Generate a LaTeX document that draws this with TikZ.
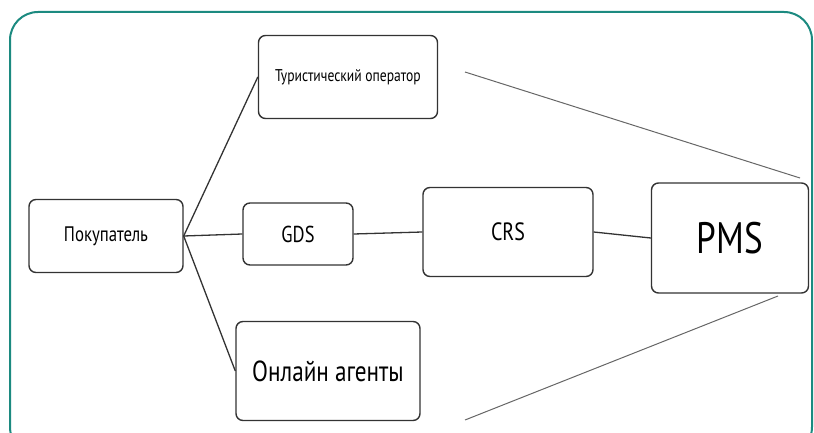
\documentclass[tikz,border=0pt]{standalone}
\usepackage{fontspec}
\setmainfont{PT Sans}[FakeStretch=0.8]
\definecolor{frameteal}{HTML}{1C8A80}
\definecolor{boxline}{HTML}{333333}
\begin{document}
\begin{tikzpicture}[x=1pt,y=-1pt,
  box/.style={draw=boxline,line width=1.4pt,rounded corners=7pt,fill=white,
    inner sep=0pt,align=center,font=\fontsize{24}{26}\selectfont},
  link/.style={draw=boxline,line width=1.3pt},
  ghost/.style={draw=black!60,line width=1pt}]
\useasboundingbox (0,0) rectangle (814,433);
\begin{scope}
\clip (0,0) rectangle (814,433);
\draw[frameteal,line width=2pt,rounded corners=28pt] (10,12) rectangle (812,455);
\end{scope}
\node[box,minimum width=179pt,minimum height=83pt,font=\fontsize{17}{19}\selectfont] (tour) at (348,77) {Туристический оператор};
\node[box,minimum width=154pt,minimum height=73pt,font=\fontsize{21}{23}\selectfont] (buyer) at (106,236) {Покупатель};
\node[box,minimum width=110pt,minimum height=62pt,font=\fontsize{23}{25}\selectfont] (gds) at (298,234) {GDS};
\node[box,minimum width=170pt,minimum height=89pt,font=\fontsize{25}{27}\selectfont] (crs) at (508,232) {CRS};
\node[box,minimum width=157pt,minimum height=110pt,font=\fontsize{44}{46}\selectfont] (pms) at (730,238) {PMS};
\node[box,minimum width=184pt,minimum height=99pt,font=\fontsize{29}{31}\selectfont] (online) at (328,371) {Онлайн агенты};
\draw[link] (buyer.east) -- (tour.west);
\draw[link] (buyer.east) -- (gds.west);
\draw[link] (buyer.east) -- (online.west);
\draw[link] (gds.east) -- (crs.west);
\draw[link] (crs.east) -- (pms.west);
\coordinate (t1) at (465,72);
\coordinate (t2) at (800,178);
\coordinate (b1) at (465,420);
\coordinate (b2) at (778,296);
\draw[ghost] (t1) -- (t2);
\draw[ghost] (b1) -- (b2);
\end{tikzpicture}
\end{document}
